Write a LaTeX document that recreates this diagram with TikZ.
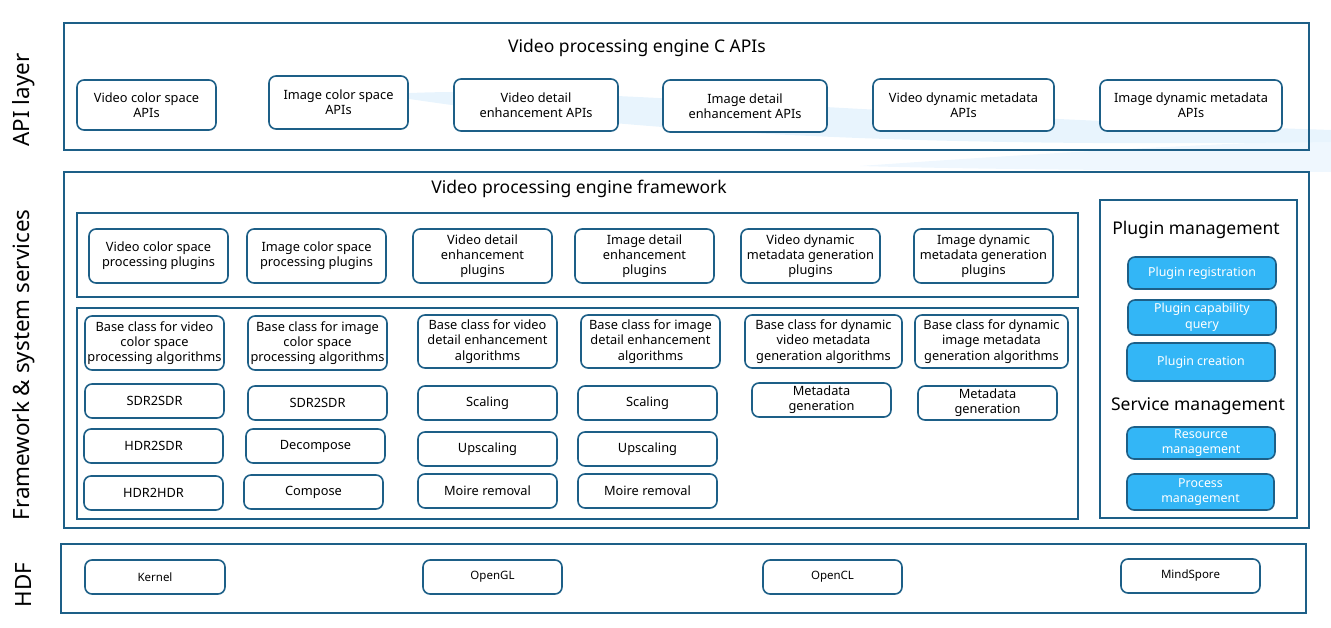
\documentclass[tikz,border=0pt]{standalone}
\usepackage{fontspec}
\setmainfont{Noto Sans}
\usetikzlibrary{positioning}
\definecolor{framecol}{HTML}{1D5F87}
\definecolor{plugblue}{HTML}{33B6F6}
\definecolor{swirlcol}{HTML}{E8F4FD}

\begin{document}
\begin{tikzpicture}[
    x=1pt, y=-1pt,
    layer/.style={draw=framecol, line width=1.6pt},
    unit/.style={draw=framecol, fill=white, line width=1.6pt, rounded corners=7pt, align=center, inner sep=1pt, font=\fontsize{12.8}{15.2}\selectfont},
    mgmt/.style={unit, fill=plugblue, text=white, font=\fontsize{12.4}{15.5}\selectfont},
    hdfunit/.style={unit, font=\fontsize{11.5}{13}\selectfont},
    title/.style={font=\fontsize{17.5}{20}\selectfont},
    side/.style={rotate=90, font=\fontsize{22.4}{26}\selectfont}
]
\useasboundingbox (0,0) rectangle (1331,627);

% background swirl
\fill[swirlcol] (390,94) .. controls (560,84) and (800,112) .. (1331,130) -- (1331,142) .. controls (900,148) and (620,132) .. (390,96) -- cycle;
\fill[swirlcol, opacity=0.7] (860,166) .. controls (1030,154) and (1200,144) .. (1331,140) -- (1331,172) .. controls (1160,170) and (1000,170) .. (860,166) -- cycle;

% side labels
\node[side] (lapi) at (24,100) {API layer};
\node[side] (lfw) at (24,365) {Framework \& system services};
\node[side] (lhdf) at (24,585) {HDF};

% API layer
\draw[layer] (64,23) rectangle (1309,150);
\node[title] (apititle) at (637,48) {Video processing engine C APIs};
\node[unit, minimum width=139, minimum height=50] (api1) at (146.5,105) {Video color space\\APIs};
\node[unit, minimum width=139, minimum height=53] (api2) at (338.5,102.5) {Image color space\\APIs};
\node[unit, minimum width=164, minimum height=52] (api3) at (536,105) {Video detail\\enhancement APIs};
\node[unit, minimum width=164, minimum height=52] (api4) at (745,106) {Image detail\\enhancement APIs};
\node[unit, minimum width=181, minimum height=52] (api5) at (963.5,105) {Video dynamic metadata\\APIs};
\node[unit, minimum width=182, minimum height=51] (api6) at (1191,105.5) {Image dynamic metadata\\APIs};

% framework layer
\draw[layer] (64,172) rectangle (1309,528);
\node[title] (fwtitle) at (579,189) {Video processing engine framework};
\draw[layer] (77,213) rectangle (1078,297);
\node[unit, minimum width=139, minimum height=54] (plug1) at (158.5,256) {Video color space\\processing plugins};
\node[unit, minimum width=139, minimum height=54] (plug2) at (316.5,256) {Image color space\\processing plugins};
\node[unit, minimum width=139, minimum height=54] (plug3) at (482.5,256) {Video detail\\enhancement\\plugins};
\node[unit, minimum width=139, minimum height=54] (plug4) at (644.5,256) {Image detail\\enhancement\\plugins};
\node[unit, minimum width=139, minimum height=54] (plug5) at (810.5,256) {Video dynamic\\metadata generation\\plugins};
\node[unit, minimum width=139, minimum height=54] (plug6) at (983.5,256) {Image dynamic\\metadata generation\\plugins};

\draw[layer] (77,308) rectangle (1078,519);
\node[unit, minimum width=139, minimum height=54] (base1) at (154.5,343) {Base class for video\\color space\\processing algorithms};
\node[unit, minimum width=139, minimum height=54] (base2) at (317.5,343) {Base class for image\\color space\\processing algorithms};
\node[unit, minimum width=139, minimum height=53] (base3) at (487.5,341.5) {Base class for video\\detail enhancement\\algorithms};
\node[unit, minimum width=139, minimum height=53] (base4) at (650.5,341.5) {Base class for image\\detail enhancement\\algorithms};
\node[unit, minimum width=157, minimum height=53] (base5) at (823.5,341.5) {Base class for dynamic\\video metadata\\generation algorithms};
\node[unit, minimum width=153, minimum height=53] (base6) at (991.5,341.5) {Base class for dynamic\\image metadata\\generation algorithms};

\node[unit, minimum width=139, minimum height=34] (sdr1) at (154.5,401) {SDR2SDR};
\node[unit, minimum width=139, minimum height=34] (hdr1) at (153.5,446) {HDR2SDR};
\node[unit, minimum width=139, minimum height=34] (hdr2) at (153.5,493) {HDR2HDR};
\node[unit, minimum width=139, minimum height=34] (sdr2) at (317.5,403) {SDR2SDR};
\node[unit, minimum width=139, minimum height=34] (decomp) at (315.5,446) {Decompose};
\node[unit, minimum width=139, minimum height=34] (comp) at (313.5,492) {Compose};
\node[unit, minimum width=139, minimum height=34] (scale1) at (487.5,403) {Scaling};
\node[unit, minimum width=139, minimum height=34] (up1) at (487.5,449) {Upscaling};
\node[unit, minimum width=139, minimum height=34] (moire1) at (487.5,491) {Moire removal};
\node[unit, minimum width=139, minimum height=34] (scale2) at (647.5,403) {Scaling};
\node[unit, minimum width=139, minimum height=34] (up2) at (647.5,449) {Upscaling};
\node[unit, minimum width=139, minimum height=34] (moire2) at (647.5,491) {Moire removal};
\node[unit, minimum width=139, minimum height=34] (meta1) at (821.5,400) {Metadata\\generation};
\node[unit, minimum width=139, minimum height=34] (meta2) at (987.5,403) {Metadata\\generation};

% management
\draw[layer] (1100,200) rectangle (1297,518);
\node[title] (pmtitle) at (1196,230) {Plugin management};
\node[mgmt, minimum width=148, minimum height=32] (reg) at (1202,273) {Plugin registration};
\node[mgmt, minimum width=148, minimum height=35] (cap) at (1202,317.5) {Plugin capability\\query};
\node[mgmt, minimum width=148, minimum height=38] (create) at (1201,362) {Plugin creation};
\node[title] (smtitle) at (1198,406) {Service management};
\node[mgmt, minimum width=148, minimum height=32] (res) at (1201,443) {Resource\\management};
\node[mgmt, minimum width=147, minimum height=36] (proc) at (1200.5,492) {Process\\management};

% HDF layer
\draw[layer] (61,544) rectangle (1306,613);
\node[hdfunit, minimum width=140, minimum height=34] (kernel) at (155,577) {Kernel};
\node[hdfunit, minimum width=139, minimum height=34] (opengl) at (492.5,577) {OpenGL};
\node[hdfunit, minimum width=139, minimum height=34] (opencl) at (832.5,577) {OpenCL};
\node[hdfunit, minimum width=139, minimum height=34] (mindspore) at (1190.5,576) {MindSpore};

\end{tikzpicture}
\end{document}
